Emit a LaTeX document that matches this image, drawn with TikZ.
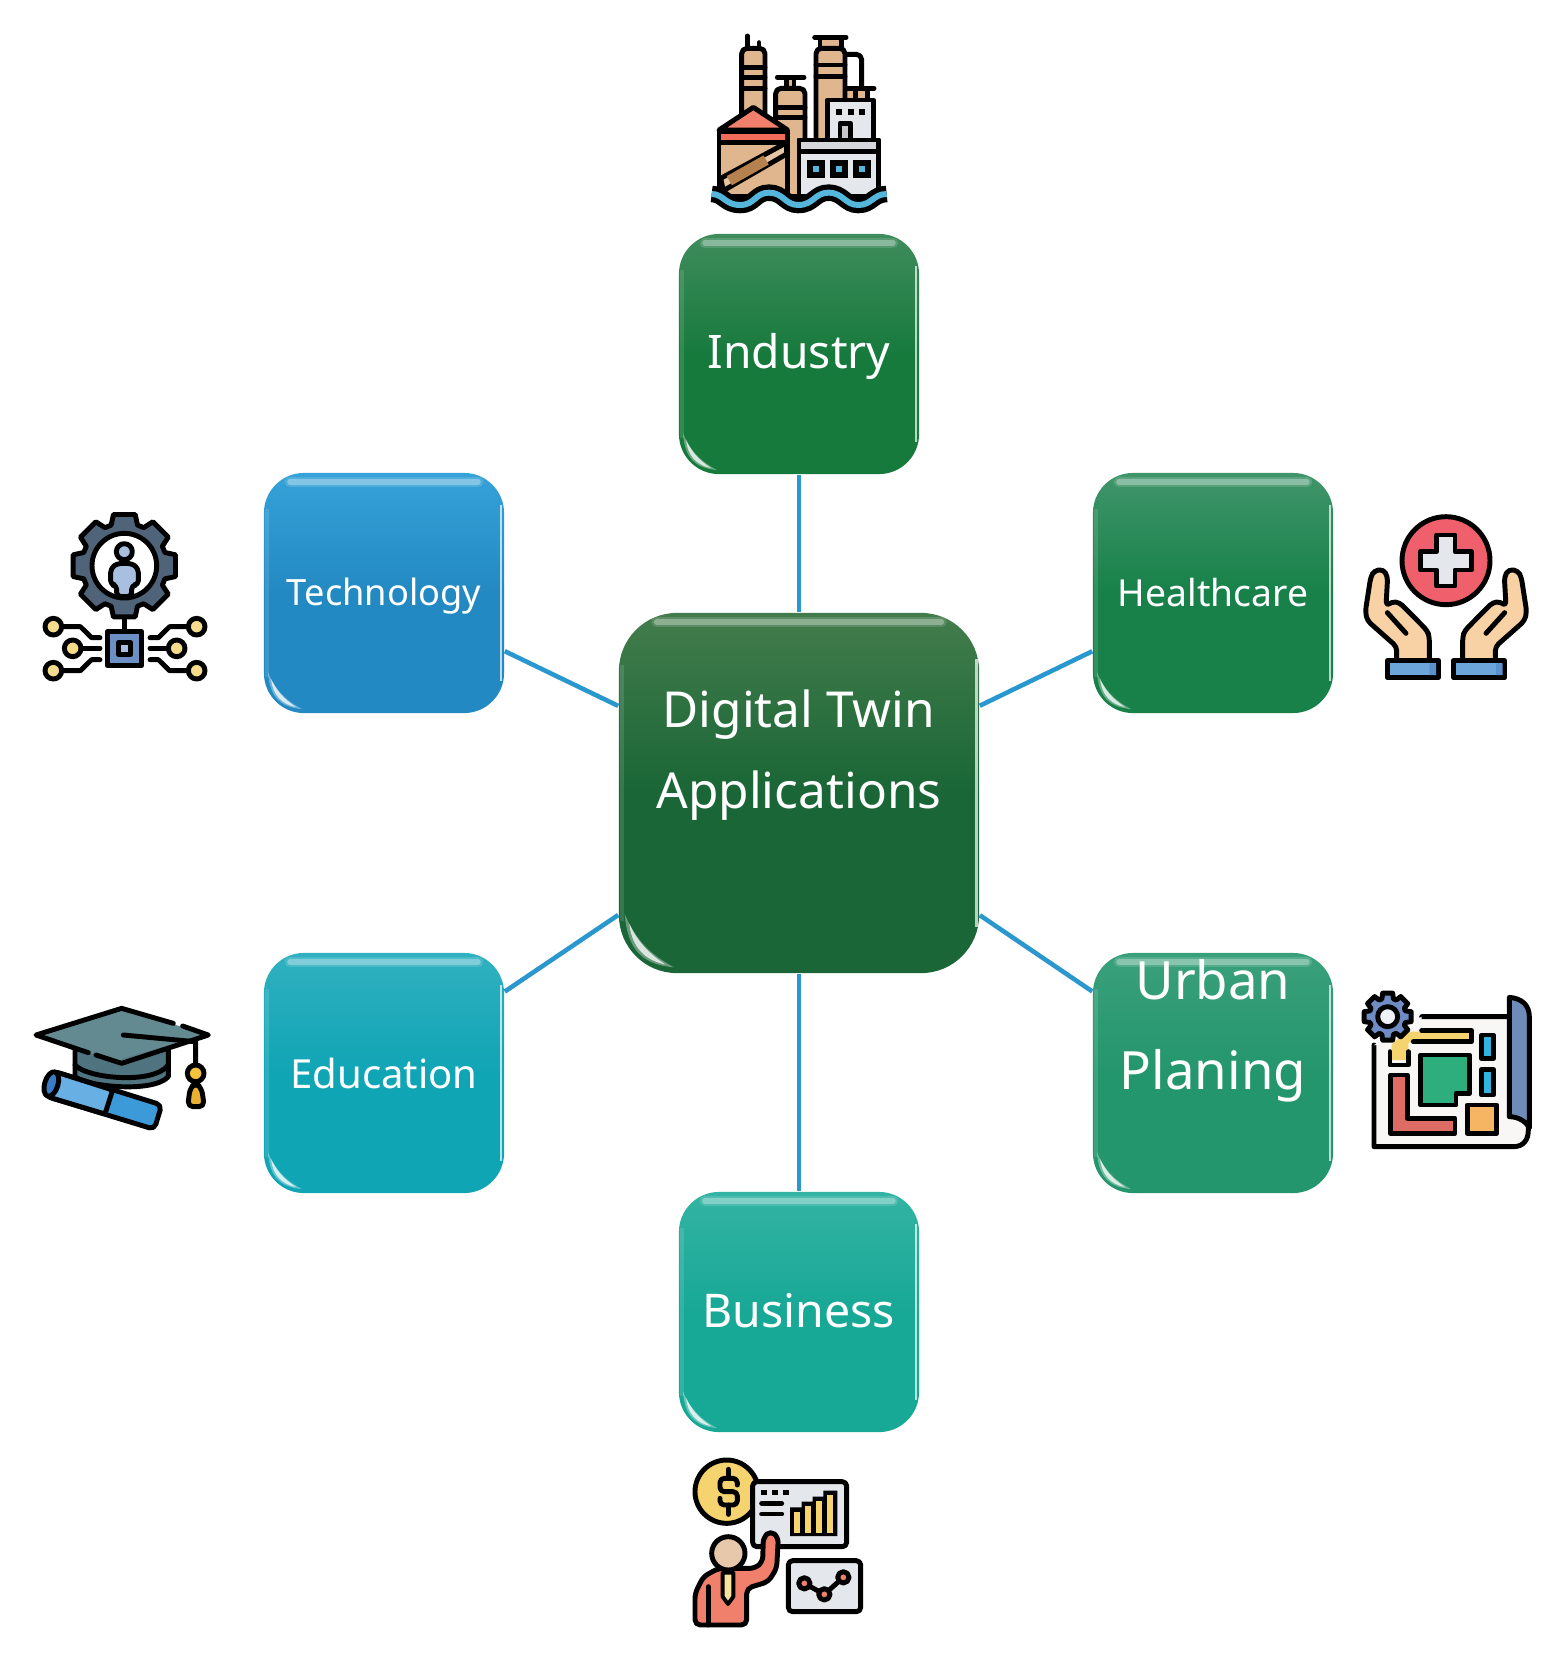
\documentclass[tikz,border=0pt]{standalone}
\usepackage{fontspec}
\setmainfont{Noto Sans}
\usetikzlibrary{calc}

\definecolor{linkblue}{HTML}{2A98CE}
\definecolor{tanbody}{HTML}{E0B68F}
\definecolor{tanbrown}{HTML}{B5814F}
\definecolor{greypanel}{HTML}{E4E7EC}
\definecolor{salmonred}{HTML}{F07F6B}
\definecolor{sunyellow}{HTML}{F5D36F}
\definecolor{skyblue}{HTML}{55B6DC}
\definecolor{twintop}{HTML}{437C4C}
\definecolor{twinbase}{HTML}{1A6636}
\definecolor{industrytop}{HTML}{3F8C5C}
\definecolor{industrybase}{HTML}{177A3D}
\definecolor{techtop}{HTML}{35A2D8}
\definecolor{techbase}{HTML}{2389C2}
\definecolor{healthtop}{HTML}{40956A}
\definecolor{healthbase}{HTML}{178149}
\definecolor{edutop}{HTML}{30B0C0}
\definecolor{edubase}{HTML}{10A5B5}
\definecolor{urbantop}{HTML}{3AA07C}
\definecolor{urbanbase}{HTML}{24966E}
\definecolor{bizztop}{HTML}{33B3A3}
\definecolor{bizzbase}{HTML}{18A896}
\definecolor{wheelgrey}{HTML}{4F6478}
\definecolor{personblue}{HTML}{A9BFE0}
\definecolor{chipblue}{HTML}{6D90C4}
\definecolor{padyellow}{HTML}{F5DC8C}
\definecolor{crossred}{HTML}{EF5F6C}
\definecolor{skintan}{HTML}{F8D2A4}
\definecolor{cuffblue}{HTML}{6CA5DA}
\definecolor{cuffdark}{HTML}{5A90CC}
\definecolor{capband}{HTML}{4F7480}
\definecolor{capboard}{HTML}{648A91}
\definecolor{capshade}{HTML}{5A7F88}
\definecolor{knobyellow}{HTML}{F5C33B}
\definecolor{tasselyellow}{HTML}{E8B030}
\definecolor{rollblue}{HTML}{3D9AD8}
\definecolor{rolllight}{HTML}{68AFE3}
\definecolor{rollend}{HTML}{3A7CC8}
\definecolor{paperwhite}{HTML}{F8F7F5}
\definecolor{flapblue}{HTML}{6E8CBA}
\definecolor{gearblue}{HTML}{6F8DC4}
\definecolor{hubwhite}{HTML}{EEF1F8}
\definecolor{parkgreen}{HTML}{2FAE7D}
\definecolor{blockred}{HTML}{DE6C65}
\definecolor{blockorange}{HTML}{F6B563}
\definecolor{poolblue}{HTML}{31B4E0}
\definecolor{tiecream}{HTML}{F7E3A0}
\definecolor{facetan}{HTML}{E8C8AB}

\tikzset{
  gloss radius/.code={\def\glossr{#1}},
  fsz/.style 2 args={font=\fontsize{#1}{#2}\selectfont},
  appbox/.style 2 args={
    top color=#1,bottom color=#2,middle color=#2,
    text=white,align=center,inner sep=0pt,
    minimum size=2.4cm,rounded corners=.4cm,gloss radius=40,
    path picture={
      \coordinate (nw) at (path picture bounding box.north west);
      \coordinate (ne) at (path picture bounding box.north east);
      \coordinate (sw) at (path picture bounding box.south west);
      \coordinate (se) at (path picture bounding box.south east);
      % highlight along the top
      \draw[white,opacity=.14,line width=3pt,line cap=round] ($(nw)+(\glossr*.65,9)$) -- ($(ne)+(-\glossr*.65,9)$);
      \draw[white,opacity=.3,line width=1.5pt,line cap=round] ($(nw)+(\glossr*.65,9)$) -- ($(ne)+(-\glossr*.65,9)$);
      % side edges
      \draw[white,opacity=.7,line width=.8pt] ($(ne)+(-3,\glossr*.8)$) -- ($(se)+(-3,-\glossr*.8)$);
      \draw[white,opacity=.12,line width=1.2pt] ($(nw)+(3,\glossr*.9)$) -- ($(sw)+(3,-\glossr*.9)$);
      % crescent in the lower left corner
      \fill[white,opacity=.35,sharp corners] ($(sw)+(\glossr*.1,-\glossr*1.02)$) .. controls ($(sw)+(\glossr*.15,-\glossr*.4)$) and ($(sw)+(\glossr*.4,-\glossr*.15)$) .. ($(sw)+(\glossr*.95,-\glossr*.1)$) .. controls ($(sw)+(\glossr*.55,-\glossr*.32)$) and ($(sw)+(\glossr*.3,-\glossr*.55)$) .. cycle;
      \fill[white,opacity=.75,sharp corners] ($(sw)+(\glossr*.18,-\glossr*.85)$) .. controls ($(sw)+(\glossr*.22,-\glossr*.45)$) and ($(sw)+(\glossr*.45,-\glossr*.22)$) .. ($(sw)+(\glossr*.8,-\glossr*.15)$) .. controls ($(sw)+(\glossr*.5,-\glossr*.35)$) and ($(sw)+(\glossr*.32,-\glossr*.55)$) .. cycle;
    }
  },
  hubbox/.style={appbox={twintop}{twinbase},minimum size=3.6cm,rounded corners=.58cm,gloss radius=58},
  link/.style={draw=linkblue,line width=1.3pt},
  outl/.style={draw=black,line width=1.4pt,line join=round,line cap=round},
  thin outl/.style={draw=black,line width=1.1pt,line join=round,line cap=round},
}

% wheel with eight teeth: x, y, root radius, tip radius, colour
\newcommand{\gearwheel}[5]{
  \draw[outl,fill=#5,shift={(#1,#2)}] (-18:#3)
    \foreach \a in {0,45,...,315} { -- ({\a-18}:#3) -- ({\a-12}:#4) -- ({\a+12}:#4) -- ({\a+18}:#3) } -- cycle;
}

\begin{document}
\begin{tikzpicture}[x=.01cm,y=-.01cm]
\useasboundingbox (0,0) rectangle (1564,1666);

% Boxes
\node[hubbox,fsz={14.1}{23.2},text height=12.4pt] (twin) at (799,793) {Digital Twin\\Applications};
\node[appbox={industrytop}{industrybase},fsz={13.15}{16},text height=11.4pt] (industry) at (799,354) {Industry};
\node[appbox={techtop}{techbase},fsz={10.3}{14},text height=9.6pt] (technology) at (384,593) {Technology};
\node[appbox={healthtop}{healthbase},fsz={10.6}{14}] (healthcare) at (1213,593) {Healthcare};
\node[appbox={edutop}{edubase},fsz={11.4}{14}] (education) at (384,1073) {Education};
\node[appbox={urbantop}{urbanbase},fsz={15}{25.8},text height=13.2pt] (urban) at (1213,1073) {Urban\\Planing};
\node[appbox={bizztop}{bizzbase},fsz={13.2}{16},text depth=1pt] (business) at (799,1312) {Business};

% Links
\foreach \n in {industry,technology,healthcare,education,urban,business}
{
\draw[link] (twin) -- (\n);
}

% Factory
\begin{scope}[shift={(690,20)},scale=1/3]
\draw[outl] (172,48) -- (172,88);
\draw[outl] (207,68) -- (207,88);
\draw[outl,fill=tanbody,rounded corners=1.5pt] (155,290) -- (155,85) -- (225,85) -- (225,290);
\draw[outl] (155,142) -- (225,142) (155,172) -- (225,172) (155,205) -- (225,205);
\draw[outl] (262,172) -- (342,172);
\draw[outl,fill=tanbody] (290,172) rectangle (312,205);
\draw[outl,fill=tanbody,rounded corners=1.5pt] (257,300) -- (257,205) -- (345,205) -- (345,530) -- (257,530);
\draw[outl] (257,262) -- (345,262) (257,292) -- (345,292);
\draw[outl,fill=tanbody] (390,52) rectangle (455,85);
\draw[outl] (374,52) -- (468,52);
\draw[outl,rounded corners=1.5pt] (465,103) -- (515,103) -- (515,210);
\draw[outl] (465,205) -- (552,205);
\draw[outl,fill=tanbody] (465,205) rectangle (497,240);
\draw[outl,fill=tanbody] (497,205) rectangle (532,240);
\draw[outl,fill=tanbody,rounded corners=1.5pt] (378,360) -- (378,85) -- (465,85) -- (465,360);
\draw[outl] (378,135) -- (465,135) (378,170) -- (465,170);
\draw[outl,fill=greypanel] (412,240) rectangle (550,360);
\foreach \x in {447,482,516}
{
\fill (\x,277) ++(-9,-9) rectangle ++(18,18);
}
\draw[outl,fill=greypanel!70!gray] (450,310) rectangle (482,360);
\draw[outl,fill=greypanel] (327,360) rectangle (565,530);
\draw[outl,fill=greypanel!85!gray] (327,360) rectangle (565,395);
\foreach \x in {378,447,515}
{
\fill (\x,447) ++(-27,-26) rectangle ++(54,52);
\fill[skyblue] (\x,447) ++(-9,-9) rectangle ++(18,18);
}
\draw[outl,fill=tanbody] (87,335) rectangle (293,530);
\draw[outl,fill=salmonred] (87,330) -- (190,262) -- (293,330) -- cycle;
\draw[outl,fill=salmonred!85!red] (87,335) rectangle (293,367);
\draw[outl,fill=tanbody!80!white] (92,475) -- (290,368) -- (290,402) -- (100,512) -- cycle;
\draw[draw=tanbrown,dash pattern=on 12pt off 7pt,line width=3pt] (118,482) -- (285,388);
% water
\draw[line width=4.7pt] (65,522) .. controls (100,522) and (105,555) .. (150,555) .. controls (195,555) and (195,518) .. (237,518) .. controls (280,518) and (285,555) .. (325,555) .. controls (370,555) and (375,518) .. (415,518) .. controls (460,518) and (465,555) .. (505,555) .. controls (545,555) and (550,522) .. (590,522);
\draw[skyblue,line width=1.7pt] (65,522) .. controls (100,522) and (105,555) .. (150,555) .. controls (195,555) and (195,518) .. (237,518) .. controls (280,518) and (285,555) .. (325,555) .. controls (370,555) and (375,518) .. (415,518) .. controls (460,518) and (465,555) .. (505,555) .. controls (545,555) and (550,522) .. (590,522);
\end{scope}

% Person in a wheel over a chip
\begin{scope}[shift={(20,500)},scale=1/3]
\gearwheel{313}{197}{128}{157}{wheelgrey}
\draw[outl,fill=white] (313,197) circle (97);
\draw[outl,fill=personblue] (313,155) circle (24);
\draw[outl,fill=personblue,rounded corners=1.2pt] (272,255) -- (272,205) -- (292,190) -- (335,190) -- (355,205) -- (355,255) -- (335,255) -- (335,290) -- (290,290) -- (290,255) -- cycle;
\draw[outl] (313,360) -- (313,395);
\draw[outl,fill=chipblue] (262,395) rectangle (365,497);
\draw[outl,fill=personblue] (296,428) rectangle (332,464);
\foreach \x/\y/\m in {100/380/240,530/380/390,100/512/240,530/512/390}
{
\draw[outl] (\x,\y) -- ({\x+(\m-\x)*.58},\y) -- ({\x+(\m-\x)*.82},{446+(\y-446)*.5}) -- (\m,{446+(\y-446)*.5});
\draw[outl,fill=padyellow] (\x,\y) circle (25);
}
\foreach \x/\m in {158/240,470/390}
{
\draw[outl] (\x,445) -- (\m,445);
\draw[outl,fill=padyellow] (\x,445) circle (25);
}
\end{scope}

% Hands round a red cross
\begin{scope}[shift={(1350,500)},scale=1/3]
\draw[outl,fill=crossred] (288,182) circle (132);
\draw[outl,fill=greypanel] (260,105) -- (315,105) -- (315,155) -- (365,155) -- (365,210) -- (315,210) -- (315,258) -- (260,258) -- (260,210) -- (212,210) -- (212,155) -- (260,155) -- cycle;
\foreach \s/\t in {1/0,-1/576}
{
\begin{scope}[shift={(\t,0)},xscale=\s]
\draw[outl,fill=skintan,rounded corners=1.2pt] (140,482) -- (140,440) -- (52,362) -- (46,335) -- (62,232) -- (72,212) -- (100,208) -- (113,230) -- (108,318) -- (125,305) -- (148,307) -- (232,392) -- (238,410) -- (238,482);
\draw[outl] (112,338) -- (168,400);
\draw[outl,fill=cuffblue] (112,482) rectangle (265,533);
\end{scope}
}
\fill[cuffdark] (238,490) rectangle (258,525) (438,490) rectangle (458,525);
\end{scope}

% Cap and diploma
\begin{scope}[shift={(20,990)},scale=1/3]
\draw[outl,fill=capband] (165,170) -- (165,260) .. controls (200,290) and (400,310) .. (445,260) -- (445,170);
\draw[outl] (165,225) .. controls (200,265) and (400,285) .. (445,225);
\draw[fill=capboard,draw=none] (305,55) -- (565,135) -- (305,220) -- (48,135) -- cycle;
\fill[capshade] (305,205) -- (550,138) -- (565,135) -- (305,220) -- cycle;
\draw[outl] (460,100) -- (305,55) -- (48,135) -- (205,188);
\draw[outl] (228,195) -- (305,220) -- (565,135) -- (488,108);
\draw[outl] (310,135) -- (525,155) (527,155) -- (527,225);
\draw[outl,fill=tasselyellow,rounded corners=1.5pt] (527,278) -- (545,295) -- (553,350) -- (503,350) -- (510,295) -- cycle;
\draw[outl,fill=knobyellow] (527,250) circle (25);
\draw[outl,fill=rollblue,rounded corners=1.5pt] (105,245) -- (425,345) -- (403,418) -- (82,320) -- cycle;
\draw[outl,fill=rolllight,rounded corners=.8pt] (105,245) -- (278,300) -- (255,372) -- (82,320) -- cycle;
\draw[outl,fill=rollend,rotate around={-17:(94,282)}] (94,282) ellipse (20 and 38);
\end{scope}

% City plan
\begin{scope}[shift={(1350,980)},scale=1/3]
\draw[outl,fill=paperwhite] (72,195) -- (72,500) -- (490,500) .. controls (520,500) and (535,480) .. (535,450) -- (535,110) -- (215,110);
\draw[draw=none,fill=paperwhite] (72,195) -- (215,110) -- (215,200) -- cycle;
\draw[outl,fill=flapblue] (478,52) .. controls (515,55) and (538,75) .. (538,110) -- (538,445) .. controls (530,425) and (505,410) .. (478,410) -- cycle;
\fill[sunyellow] (125,240) -- (125,195) -- (165,155) -- (360,155) -- (360,180) -- (190,180) -- (175,190) -- (175,240) -- cycle;
\draw[outl] (215,152) -- (365,152) -- (365,185) -- (190,185);
\draw[outl] (120,215) -- (120,255) -- (175,255) -- (175,215);
\gearwheel{113}{110}{56}{72}{gearblue}
\draw[outl,fill=hubwhite] (113,110) circle (30);
\draw[outl,fill=parkgreen] (212,225) -- (358,225) -- (358,340) -- (318,340) -- (318,375) -- (212,375) -- cycle;
\draw[outl,fill=blockred] (122,285) -- (172,285) -- (172,415) -- (315,415) -- (315,460) -- (122,460) -- cycle;
\draw[outl,fill=blockorange] (352,375) rectangle (440,460);
\draw[outl,fill=poolblue] (395,165) rectangle (430,235);
\draw[outl,fill=poolblue] (395,268) rectangle (430,345);
\end{scope}

% Man at the charts
\begin{scope}[shift={(680,1450)},scale=1/3]
\draw[outl,fill=sunyellow] (140,125) circle (95);
\draw[outl,rounded corners=1.2pt] (172,105) -- (172,85) -- (120,85) -- (120,125) -- (172,125) -- (172,165) -- (120,165) -- (120,145);
\draw[outl] (145,58) -- (145,85) (145,165) -- (145,193);
\draw[outl,fill=greypanel,rounded corners=1.2pt] (218,95) rectangle (500,290);
\foreach \x in {252,286,318}
{
\fill (\x,127) ++(-9,-7) rectangle ++(18,14);
}
\draw[outl] (245,160) -- (305,160) (245,192) -- (305,192);
\fill (330,258) -- (330,172) -- (365,172) -- (365,155) -- (398,155) -- (398,140) -- (430,140) -- (430,122) -- (472,122) -- (472,258) -- cycle;
\foreach \x/\y in {342/185,375/168,408/152,441/135}
{
\fill[sunyellow] (\x,\y) rectangle ({\x+18},250);
}
\draw[outl,fill=greypanel,rounded corners=1.2pt] (325,332) rectangle (542,485);
\draw[outl] (373,400) -- (433,433) -- (490,382);
\foreach \x/\y in {373/400,433/433,490/382}
{
\draw[outl,fill=salmonred] (\x,\y) circle (17);
}
\draw[outl,fill=salmonred,rounded corners=1.5pt] (45,525) -- (45,430) -- (70,380) -- (115,355) -- (225,355) -- (248,335) -- (250,262) -- (272,242) -- (295,262) -- (290,355) -- (265,395) -- (200,415) -- (200,525) -- cycle;
\draw[outl] (85,410) -- (85,525);
\draw[thin outl,fill=tiecream] (128,368) -- (160,368) -- (160,440) -- (144,462) -- (128,440) -- cycle;
\draw[outl,fill=facetan] (145,310) circle (50);
\end{scope}

\end{tikzpicture}
\end{document}
